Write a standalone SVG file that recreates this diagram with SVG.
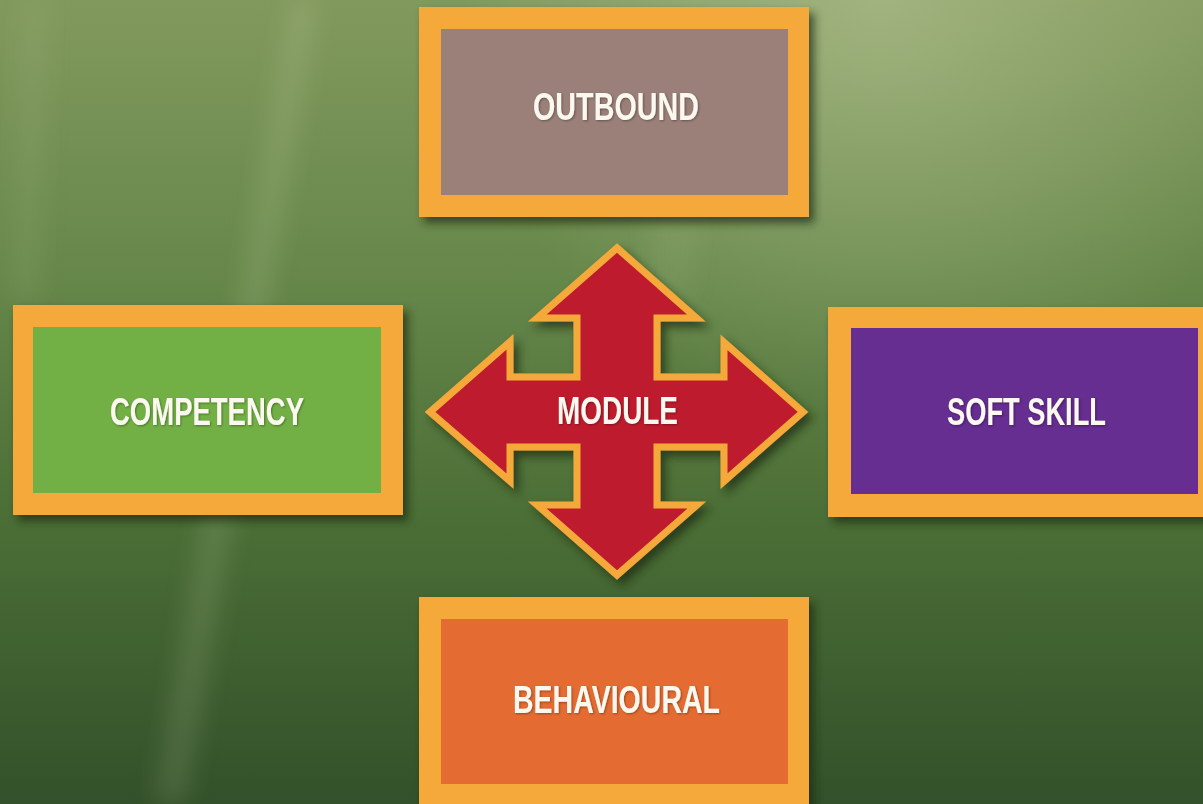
<svg xmlns="http://www.w3.org/2000/svg" width="1203" height="804" viewBox="0 0 1203 804">
<defs>
<linearGradient id="bg" x1="0" y1="0" x2="0" y2="804" gradientUnits="userSpaceOnUse">
<stop offset="0" stop-color="#82995d"/>
<stop offset="0.35" stop-color="#66874a"/>
<stop offset="0.65" stop-color="#4b6e36"/>
<stop offset="1" stop-color="#33512a"/>
</linearGradient>
<radialGradient id="glow" cx="880" cy="0" r="420" gradientUnits="userSpaceOnUse">
<stop offset="0" stop-color="#c8d4a8" stop-opacity="0.45"/>
<stop offset="1" stop-color="#c8d4a8" stop-opacity="0"/>
</radialGradient>
<filter id="blur" x="-50%" y="-50%" width="200%" height="200%"><feGaussianBlur stdDeviation="12"/></filter>
<filter id="shadow" x="-10%" y="-10%" width="125%" height="130%"><feDropShadow dx="5" dy="6" stdDeviation="4" flood-color="#1a2a0e" flood-opacity="0.7"/></filter>
<filter id="tshadow" x="-5%" y="-20%" width="110%" height="140%"><feDropShadow dx="1" dy="1" stdDeviation="1" flood-color="#000" flood-opacity="0.35"/></filter>
</defs>
<style>
.frame{fill:#f6a93b}
.lbl{font-family:"Liberation Sans Narrow","Liberation Sans",Arial,sans-serif;font-weight:bold;font-size:39px;fill:#fbf8f0}
</style>
<rect x="0" y="0" width="1203" height="804" fill="url(#bg)"/>
<rect x="0" y="0" width="1203" height="804" fill="url(#glow)"/>
<g id="rays" filter="url(#blur)" fill="#dfe8c0">
<polygon points="290,0 318,0 185,804 155,804" opacity="0.14"/>
<polygon points="20,0 50,0 40,300 10,300" opacity="0.08"/>
<polygon points="650,220 700,220 690,300 650,300" opacity="0.08"/>
</g>
<g id="connectors"/>
<g id="node-outbound" filter="url(#shadow)">
<rect class="frame" x="419" y="7" width="390" height="210"/>
<rect x="441" y="29" width="347" height="166" fill="#9a8078"/>
<text class="lbl" x="533" y="120" textLength="166" lengthAdjust="spacingAndGlyphs" filter="url(#tshadow)">OUTBOUND</text>
</g>
<g id="node-competency" filter="url(#shadow)">
<rect class="frame" x="13" y="305" width="390" height="210"/>
<rect x="33" y="327" width="348" height="166" fill="#72b045"/>
<text class="lbl" x="110" y="425" textLength="194" lengthAdjust="spacingAndGlyphs" filter="url(#tshadow)">COMPETENCY</text>
</g>
<g id="node-softskill" filter="url(#shadow)">
<rect class="frame" x="828" y="307" width="395" height="210"/>
<rect x="851" y="328" width="347" height="166" fill="#652d90"/>
<text class="lbl" x="947" y="425" textLength="159" lengthAdjust="spacingAndGlyphs" filter="url(#tshadow)">SOFT SKILL</text>
</g>
<g id="node-behavioural" filter="url(#shadow)">
<rect class="frame" x="419" y="597" width="390" height="212"/>
<rect x="441" y="619" width="347" height="165" fill="#e46c32"/>
<text class="lbl" x="513" y="713" textLength="207" lengthAdjust="spacingAndGlyphs" filter="url(#tshadow)">BEHAVIOURAL</text>
</g>
<g id="node-module">
<path filter="url(#shadow)" fill="#be1e2d" stroke="#f6a93b" stroke-width="7" stroke-linejoin="miter" stroke-miterlimit="6"
d="M617,248 L696.4,318 L657,318 L657,377 L724,377 L724,342.3 L803,412 L724,481.2 L724,447 L657,447 L657,505 L696.9,505 L617,575 L537.1,505 L577,505 L577,447 L510,447 L510,481.2 L430,412 L510,341.8 L510,377 L577,377 L577,318 L537.2,318 Z"/>
<text class="lbl" x="557" y="424" font-size="38" textLength="121" lengthAdjust="spacingAndGlyphs" filter="url(#tshadow)">MODULE</text>
</g>
</svg>
